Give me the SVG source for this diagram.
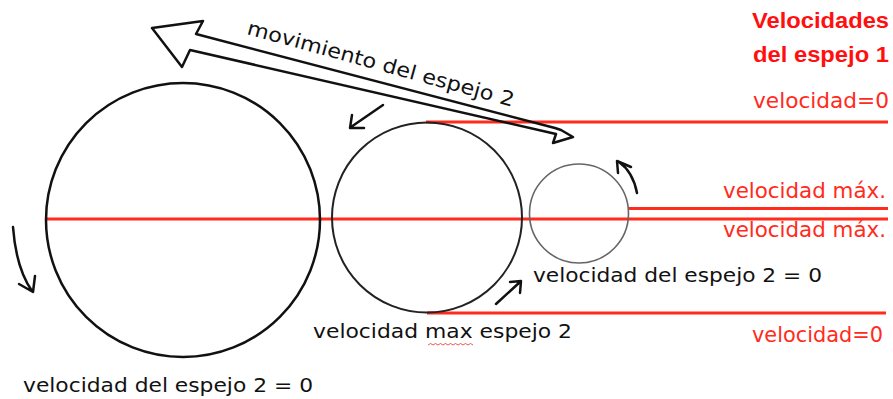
<svg xmlns="http://www.w3.org/2000/svg" width="893" height="399" viewBox="0 0 893 399">
<style>
.red{stroke:#ff2b1c;stroke-width:3;fill:none}
.blk{font-family:"DejaVu Sans",Verdana,sans-serif;font-size:20px;fill:#111}
.rt{font-family:"DejaVu Sans",Verdana,sans-serif;font-size:20.5px;fill:#ff2b1c;text-anchor:end}
.ttl{font-family:"Liberation Sans",Arial,sans-serif;font-size:22px;font-weight:bold;fill:#ff1010;text-anchor:end}
.arr{stroke:#111;stroke-width:2.5;fill:none;stroke-linecap:round;stroke-linejoin:round}
</style>
<rect width="893" height="399" fill="#fff"/>
<g id="velocity-lines">
<line class="red" x1="426" y1="122" x2="888" y2="122"/>
<line class="red" x1="628" y1="208.5" x2="888" y2="208.5"/>
<line class="red" x1="46" y1="219" x2="888" y2="219"/>
<line class="red" x1="427" y1="313" x2="886" y2="313"/>
</g>
<g id="big-circle"><circle cx="183" cy="220" r="137" fill="none" stroke="#111" stroke-width="2.5"/></g>
<g id="middle-circle"><circle cx="427" cy="217.5" r="95" fill="none" stroke="#222" stroke-width="2"/></g>
<g id="small-circle"><circle cx="579" cy="213.5" r="49.5" fill="none" stroke="#666" stroke-width="1.6"/></g>
<g id="connectors">
<polygon class="arr" stroke-width="3" points="152,28 203,21 196,34 555,128 561,130 573,137 553,143 556,134 190,50 182,67"/>
<path class="arr" d="M383,105 L351,127 M352,115 L350,128 L364,128"/>
<path class="arr" d="M496,304 L520,282 M510,282 L521,281 L520,293"/>
<path class="arr" d="M637,193 Q633,172 619,162 M618,173 L617,161 L631,167"/>
<path class="arr" d="M13,227 Q16,268 32,291 M19,284 L33,292 L35,276"/>
</g>
<g id="title">
<text class="ttl" x="889" y="28" textLength="137" lengthAdjust="spacingAndGlyphs">Velocidades</text>
<text class="ttl" x="889" y="62" textLength="136" lengthAdjust="spacingAndGlyphs">del espejo 1</text>
</g>
<g id="red-labels">
<text class="rt" x="889" y="108" textLength="136" lengthAdjust="spacingAndGlyphs">velocidad=0</text>
<text class="rt" x="886" y="198" textLength="163" lengthAdjust="spacingAndGlyphs">velocidad máx.</text>
<text class="rt" x="886" y="237" textLength="163" lengthAdjust="spacingAndGlyphs">velocidad máx.</text>
<text class="rt" x="883" y="342" textLength="131" lengthAdjust="spacingAndGlyphs">velocidad=0</text>
</g>
<g id="black-labels">
<text class="blk" transform="translate(246,34) rotate(15.3)" font-size="22" textLength="276" lengthAdjust="spacingAndGlyphs">movimiento del espejo 2</text>
<text class="blk" x="533" y="282" textLength="289" lengthAdjust="spacingAndGlyphs">velocidad del espejo 2 = 0</text>
<text class="blk" x="313" y="338" textLength="259" lengthAdjust="spacingAndGlyphs">velocidad max espejo 2</text>
<text class="blk" x="23" y="392" textLength="290" lengthAdjust="spacingAndGlyphs">velocidad del espejo 2 = 0</text>
<path d="M428,345 l2.5,-1.5 l2.5,1.5 l2.5,-1.5 l2.5,1.5 l2.5,-1.5 l2.5,1.5 l2.5,-1.5 l2.5,1.5 l2.5,-1.5 l2.5,1.5 l2.5,-1.5 l2.5,1.5 l2.5,-1.5 l2.5,1.5 l2.5,-1.5 l2.5,1.5 l2.5,-1.5 l2.5,1.5" fill="none" stroke="#e0302a" stroke-width="0.8"/>
</g>
</svg>
